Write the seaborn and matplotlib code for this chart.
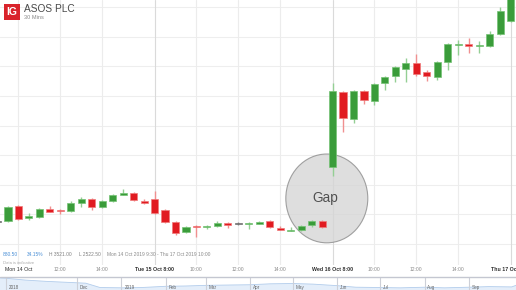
import matplotlib
matplotlib.use("Agg")
import matplotlib.pyplot as plt
from matplotlib.patches import Ellipse, Rectangle
from matplotlib.lines import Line2D
import pandas as pd
import seaborn as sns

W, H = 516, 290

# ---- 30-minute candles (ASOS PLC, 14-17 Oct 2019) ----
bar_index = list(range(50))
opens = [2577.5, 2578, 2628, 2588, 2591, 2618, 2615, 2611.5, 2638.5, 2652,
         2625, 2645, 2665.5, 2672, 2645, 2652, 2615, 2574, 2540.5, 2562.5,
         2557.5, 2561, 2571, 2569, 2569, 2569, 2578, 2554, 2545.5, 2547,
         2564, 2578, 2760, 3013.5, 2922, 3017, 2983, 3044, 3067.5, 3091,
         3111.5, 3081, 3064, 3115, 3172, 3175.5, 3169, 3169, 3209.5, 3253]
highs = [2581, 2628, 2632, 2605, 2622, 2628, 2618, 2645, 2659, 2655,
         2649, 2669, 2686, 2676, 2652, 2679, 2618, 2578, 2561, 2564,
         2564, 2578, 2574, 2576, 2574, 2578, 2581, 2561, 2557.5, 2564,
         2581, 2581, 3044, 3017, 3020, 3020, 3044, 3067.5, 3101, 3128,
         3142, 3088, 3118, 3179, 3189, 3196, 3186, 3219.5, 3300.5, 3375]
lows = [2574, 2574, 2581, 2581, 2588, 2608, 2601, 2608, 2625, 2615,
        2622, 2642, 2665.5, 2645, 2635, 2601, 2571, 2530, 2537, 2523.5,
        2551, 2557.5, 2554, 2564, 2551, 2567.5, 2554, 2547, 2544, 2544,
        2557.5, 2554, 2730, 2878, 2909, 2973, 2969.5, 3020, 3047, 3047,
        3067.5, 3050.5, 3054, 3088, 3138.5, 3145, 3145, 3165.5, 3206, 3250]
closes = [2577.5, 2625, 2584.5, 2595, 2618, 2608, 2611.5, 2638.5, 2652, 2625,
          2645, 2665.5, 2672, 2649, 2638.5, 2605, 2574, 2537, 2557.5, 2559,
          2561, 2571, 2564, 2569, 2572.5, 2574, 2557.5, 2549, 2549, 2561,
          2578, 2557.5, 3017, 2925.5, 3017, 2986.5, 3040.5, 3064, 3098, 3111.5,
          3074.5, 3067.5, 3115, 3175.5, 3174, 3170.5, 3170.5, 3209.5, 3287, 3358]

tick_positions = [2, 6, 10, 15, 19, 23, 27, 32, 36, 40, 44, 49]
tick_labels = ["Mon 14 Oct", "12:00", "14:00", "Tue 15 Oct 8:00", "10:00",
               "12:00", "14:00", "Wed 16 Oct 8:00", "10:00", "12:00",
               "14:00", "Thu 17 Oct 8:00"]
price_grid = [2500, 2600, 2700, 2800, 2900, 3000, 3100, 3200, 3300]

# ---- navigator (1-year history) ----
nav_dates = ["2018-10-08", "2018-10-12", "2018-10-26", "2018-11-09", "2018-11-23",
             "2018-12-07", "2018-12-17", "2019-01-02", "2019-01-15", "2019-02-01",
             "2019-02-15", "2019-03-01", "2019-03-15", "2019-04-01", "2019-04-15",
             "2019-05-01", "2019-05-15", "2019-06-01", "2019-06-14", "2019-07-01",
             "2019-07-15", "2019-08-01", "2019-08-15", "2019-09-01", "2019-09-15",
             "2019-10-01", "2019-10-04"]
nav_prices = [5700, 5600, 5000, 4600, 4300, 4000, 2600, 2500, 2600, 3000,
              3100, 3300, 3400, 3500, 3800, 3900, 3700, 3200, 2700, 2600,
              2500, 2700, 2500, 2700, 2900, 2800, 3300]
nav_month_starts = ["2018-10-12", "2018-12-01", "2019-01-01", "2019-02-01",
                    "2019-03-01", "2019-04-01", "2019-05-01", "2019-06-01",
                    "2019-07-01", "2019-08-01", "2019-09-01"]
nav_month_labels = ["2018", "Dec", "2019", "Feb", "Mar", "Apr", "May", "Jun",
                    "Jul", "Aug", "Sep"]

sns.set_style("white")
plt.rcParams["font.family"] = ["Liberation Sans", "DejaVu Sans"]

fig = plt.figure(figsize=(W / 100, H / 100), dpi=100)
fig.patch.set_facecolor("white")


def fx(px):
    return px / W


def fy(py):
    return 1 - py / H


GREEN, GREEN_EDGE, GREEN_WICK = "#3a9c3a", "#74c274", "#94cf94"
RED, RED_EDGE, RED_WICK = "#e11b21", "#f07a7a", "#f09090"
GRAY = "#707070"

ax = fig.add_axes([0, fy(265), 1, 265 / H])
ax.set_facecolor("white")
ax.set_xlim(0.236, 49.52)
ax.set_ylim(2429.1, 3324.2)

for p in price_grid:
    ax.axhline(p, color="#eeeeee", lw=0.8, zorder=0)
for pos, lab in zip(tick_positions, tick_labels):
    day = ("Oct" in lab) and not lab.startswith("Mon")
    ax.axvline(pos, color="#dadada" if day else "#ececec", lw=0.8, zorder=0)

# Gap highlight
ax.add_patch(Ellipse((31.45, 2654), 7.83, 300, facecolor="#d6d6d6", alpha=0.8,
                     edgecolor="#8c8c8c", lw=0.8, zorder=1))
ax.text(31.3, 2655, "Gap", ha="center", va="center", fontsize=9.8,
        color="#505050", zorder=1.5)

df = pd.DataFrame({"i": bar_index, "o": opens, "h": highs, "l": lows, "c": closes})
for _, r in df.iterrows():
    if r.c > r.o:
        fc, ec, wc = GREEN, GREEN_EDGE, GREEN_WICK
    elif r.c < r.o:
        fc, ec, wc = RED, RED_EDGE, RED_WICK
    else:
        fc, ec, wc = GRAY, GRAY, "#909090"
    ax.vlines(r.i, r.l, r.h, color=wc, lw=1.0, zorder=3)
    hgt = max(abs(r.c - r.o), 3.5)
    bot = min(r.o, r.c) if abs(r.c - r.o) >= 3.5 else (r.o + r.c) / 2 - 1.75
    ax.bar(r.i, hgt, bottom=bot, width=0.68, color=fc, edgecolor=ec,
           linewidth=0.5, zorder=4)

ax.set_yticks([])
ax.set_xticks(tick_positions)
ax.set_xticklabels(tick_labels)
ax.tick_params(axis="x", length=0, pad=1.6)
for t, lab in zip(ax.get_xticklabels(), tick_labels):
    if "Oct" in lab:
        t.set_color("#2e2e2e")
        t.set_fontsize(3.8)
        if not lab.startswith("Mon"):
            t.set_fontweight("bold")
    else:
        t.set_color("#8a8a8a")
        t.set_fontsize(3.6)
for s in ax.spines.values():
    s.set_visible(False)

# Header
fig.add_artist(Rectangle((fx(4), fy(20)), 16 / W, 16 / H, transform=fig.transFigure,
                         facecolor="#d9232b", edgecolor="none"))
fig.text(fx(12), fy(12.3), "IG", ha="center", va="center", fontsize=7.5,
         fontweight="bold", color="white")
fig.text(fx(24), fy(9), "ASOS PLC", ha="left", va="center", fontsize=7.3,
         color="#4a4a4a")
fig.text(fx(24), fy(17.4), "30 Mins", ha="left", va="center", fontsize=4.1,
         color="#8a8a8a")

# Info line
fig.text(fx(3), fy(254), "880.50", fontsize=3.5, color="#4a8fd6", va="center")
fig.text(fx(27), fy(254), "34.15%", fontsize=3.5, color="#4a8fd6", va="center")
fig.text(fx(49), fy(254), "H 3521.00", fontsize=3.5, color="#808080", va="center")
fig.text(fx(79), fy(254), "L 2522.50", fontsize=3.5, color="#808080", va="center")
fig.text(fx(107), fy(254), "Mon 14 Oct 2019 9:30 - Thu 17 Oct 2019 10:00",
         fontsize=3.5, color="#8a8a8a", va="center")
fig.text(fx(3), fy(263), "Data is indicative", fontsize=3.0, color="#aaaaaa",
         va="center")

# Navigator
nav = fig.add_axes([0, 0, 1, 13 / H])
nav_df = pd.DataFrame({"date": pd.to_datetime(nav_dates), "price": nav_prices})
nav.fill_between(nav_df["date"], nav_df["price"], 1800, color="#e4eefa", lw=0)
sns.lineplot(data=nav_df, x="date", y="price", ax=nav, color="#b3cdec", lw=0.6)
nav.set_xlim(pd.Timestamp("2018-10-08"), pd.Timestamp("2019-10-04"))
nav.set_ylim(1800, 6000)
for d, lab in zip(nav_month_starts, nav_month_labels):
    dt = pd.Timestamp(d)
    nav.axvline(dt, color="#cdd0d8", lw=0.8)
    nav.text(dt + pd.Timedelta(days=2), 0.2, lab, transform=nav.get_xaxis_transform(),
             fontsize=3.3, color="#666666", va="center", ha="left")
nav.set_axis_off()
fig.add_artist(Line2D([0, 1], [fy(277), fy(277)], transform=fig.transFigure,
                      color="#c4c7d1", lw=1.0))

fig.savefig("out.png", dpi=100, facecolor="white")
